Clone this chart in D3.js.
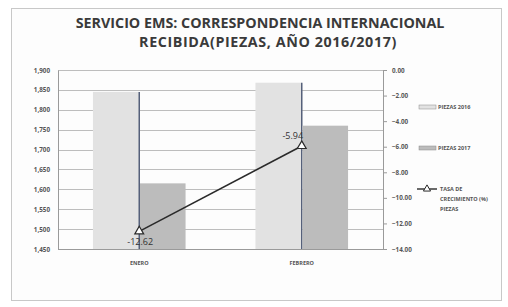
<!DOCTYPE html>
<html>
<head>
<meta charset="utf-8">
<script src="https://cdn.jsdelivr.net/npm/d3@7"></script>
<style>
  body { margin: 0; background: #fff; }
  text { font-family: "Open Sans", "DejaVu Sans", sans-serif; }
</style>
</head>
<body>
<div class="chart"></div>
<script>
// data
var months = ['ENERO', 'FEBRERO'];
var piezas2016 = [1845, 1868];
var piezas2017 = [1615, 1760];
var tasa = [-12.62, -5.94];
var leftTicks = [1450, 1500, 1550, 1600, 1650, 1700, 1750, 1800, 1850, 1900];
var rightTicks = [0, -2, -4, -6, -8, -10, -12, -14];

var svgWidth = 508;
var svgHeight = 307;
var margin = {top: 70, right: 125, bottom: 58, left: 58};
var width = svgWidth - margin.left - margin.right;
var height = svgHeight - margin.top - margin.bottom;

var svg = d3.select('.chart')
    .append('svg')
    .attr('width', svgWidth)
    .attr('height', svgHeight);

// frame
svg.append('rect')
    .attr('x', 11.5).attr('y', 8.5)
    .attr('width', 490).attr('height', 292)
    .attr('fill', '#fdfdfd')
    .attr('stroke', '#c8c8c8');

// title
svg.append('text')
    .attr('x', 260).attr('y', 28)
    .attr('text-anchor', 'middle')
    .attr('font-size', '14.3px').attr('font-weight', 'bold').attr('fill', '#3a3a3a')
    .text('SERVICIO EMS: CORRESPONDENCIA  INTERNACIONAL');
svg.append('text')
    .attr('x', 268).attr('y', 47)
    .attr('text-anchor', 'middle')
    .attr('font-size', '14.3px').attr('font-weight', 'bold').attr('fill', '#3a3a3a')
    .attr('letter-spacing', '0.6px')
    .text('RECIBIDA(PIEZAS, AÑO 2016/2017)');

var chart = svg.append('g')
    .attr('transform', 'translate(' + margin.left + ',' + margin.top + ')');

var x0 = d3.scaleBand().domain(months).range([0, width]).paddingInner(0).paddingOuter(0);
var yL = d3.scaleLinear().domain([1450, 1900]).range([height, 0]);
var yR = d3.scaleLinear().domain([-14, 0]).range([height, 0]);
var barW = x0.bandwidth() * 0.285;

// gridlines
chart.append('g').selectAll('line')
    .data(leftTicks)
    .enter().append('line')
    .attr('x1', 0).attr('x2', width)
    .attr('y1', function(d) { return Math.round(yL(d)) + 0.5; })
    .attr('y2', function(d) { return Math.round(yL(d)) + 0.5; })
    .attr('stroke', '#bdbdbd');

// bars 2016
chart.selectAll('.b16')
    .data(piezas2016)
    .enter().append('rect')
    .attr('class', 'b16')
    .attr('x', function(d, i) { return x0(months[i]) + x0.bandwidth() / 2 - barW; })
    .attr('y', function(d) { return yL(d); })
    .attr('width', barW)
    .attr('height', function(d) { return height - yL(d); })
    .attr('fill', '#e2e2e2');

chart.selectAll('.e16')
    .data(piezas2016)
    .enter().append('line')
    .attr('class', 'e16')
    .attr('x1', function(d, i) { return x0(months[i]) + x0.bandwidth() / 2; })
    .attr('x2', function(d, i) { return x0(months[i]) + x0.bandwidth() / 2; })
    .attr('y1', function(d) { return yL(d); })
    .attr('y2', height)
    .attr('stroke', '#55607a').attr('stroke-width', 1.5);

// bars 2017
chart.selectAll('.b17')
    .data(piezas2017)
    .enter().append('rect')
    .attr('class', 'b17')
    .attr('x', function(d, i) { return x0(months[i]) + x0.bandwidth() / 2 + 0.75; })
    .attr('y', function(d) { return yL(d); })
    .attr('width', barW - 0.75)
    .attr('height', function(d) { return height - yL(d); })
    .attr('fill', '#bcbcbc');

// axes
var leftAxis = d3.axisLeft(yL).tickValues(leftTicks).tickSize(0).tickPadding(8)
    .tickFormat(d3.format(',.0f'));
var gl = chart.append('g').call(leftAxis);
gl.select('.domain').attr('stroke', '#9a9a9a');
gl.selectAll('text').attr('font-size', '6.3px').attr('font-weight', 'bold').attr('fill', '#555');

var rightAxis = d3.axisRight(yR).tickValues(rightTicks).tickSize(4).tickPadding(5)
    .tickFormat(d3.format('.2f'));
var gr = chart.append('g').attr('transform', 'translate(' + width + ',0)').call(rightAxis);
gr.select('.domain').attr('stroke', '#9a9a9a');
gr.selectAll('line').attr('stroke', '#9a9a9a');
gr.selectAll('text').attr('font-size', '6.3px').attr('font-weight', 'bold').attr('fill', '#555');

chart.append('line')
    .attr('x1', 0).attr('x2', width)
    .attr('y1', height + 0.5).attr('y2', height + 0.5)
    .attr('stroke', '#9a9a9a');

// category labels
chart.selectAll('.cat')
    .data(months)
    .enter().append('text')
    .attr('x', function(d) { return x0(d) + x0.bandwidth() / 2; })
    .attr('y', height + 16)
    .attr('text-anchor', 'middle')
    .attr('font-size', '5.5px').attr('font-weight', 'bold').attr('fill', '#555')
    .text(function(d) { return d; });

// growth line
var line = d3.line()
    .x(function(d, i) { return x0(months[i]) + x0.bandwidth() / 2; })
    .y(function(d) { return yR(d); });
chart.append('path')
    .datum(tasa)
    .attr('d', line)
    .attr('fill', 'none')
    .attr('stroke', '#2a2a2a').attr('stroke-width', 1.6);

var tri = d3.symbol().type(d3.symbolTriangle).size(34);
chart.selectAll('.pt')
    .data(tasa)
    .enter().append('path')
    .attr('class', 'pt')
    .attr('d', tri)
    .attr('transform', function(d, i) {
        return 'translate(' + (x0(months[i]) + x0.bandwidth() / 2) + ',' + yR(d) + ')';
    })
    .attr('fill', '#fff').attr('stroke', '#2a2a2a').attr('stroke-width', 1.2);

chart.selectAll('.lbl')
    .data(tasa)
    .enter().append('text')
    .attr('class', 'lbl')
    .attr('x', function(d, i) { return x0(months[i]) + x0.bandwidth() / 2 + (i === 0 ? 1 : -9); })
    .attr('y', function(d, i) { return yR(d) + (i === 0 ? 14 : -7); })
    .attr('text-anchor', 'middle')
    .attr('font-size', '9px').attr('fill', '#333')
    .text(function(d) { return d.toFixed(2); });

// legend
var legend = svg.append('g');
var items = ['PIEZAS 2016', 'PIEZAS 2017'];
var swatch = ['#e2e2e2', '#bcbcbc'];
legend.selectAll('.sw')
    .data(items)
    .enter().append('rect')
    .attr('x', 419)
    .attr('y', function(d, i) { return 105 + i * 41; })
    .attr('width', 17).attr('height', 4)
    .attr('fill', function(d, i) { return swatch[i]; })
    .attr('stroke', '#8a8a8a').attr('stroke-width', 0.5);
legend.selectAll('.lt')
    .data(items)
    .enter().append('text')
    .attr('x', 438)
    .attr('y', function(d, i) { return 109 + i * 41; })
    .attr('font-size', '5.5px').attr('font-weight', 'bold').attr('fill', '#555')
    .text(function(d) { return d; });

legend.append('line')
    .attr('x1', 417).attr('x2', 437).attr('y1', 189).attr('y2', 189)
    .attr('stroke', '#2a2a2a').attr('stroke-width', 1.4);
legend.append('path')
    .attr('d', d3.symbol().type(d3.symbolTriangle).size(22))
    .attr('transform', 'translate(427,189)')
    .attr('fill', '#fff').attr('stroke', '#2a2a2a').attr('stroke-width', 1);
var tl = ['TASA DE', 'CRECIMIENTO  (%)', 'PIEZAS'];
legend.selectAll('.tl')
    .data(tl)
    .enter().append('text')
    .attr('x', 440)
    .attr('y', function(d, i) { return 191 + i * 10; })
    .attr('font-size', '5.5px').attr('font-weight', 'bold').attr('fill', '#555')
    .text(function(d) { return d; });
</script>
</body>
</html>
